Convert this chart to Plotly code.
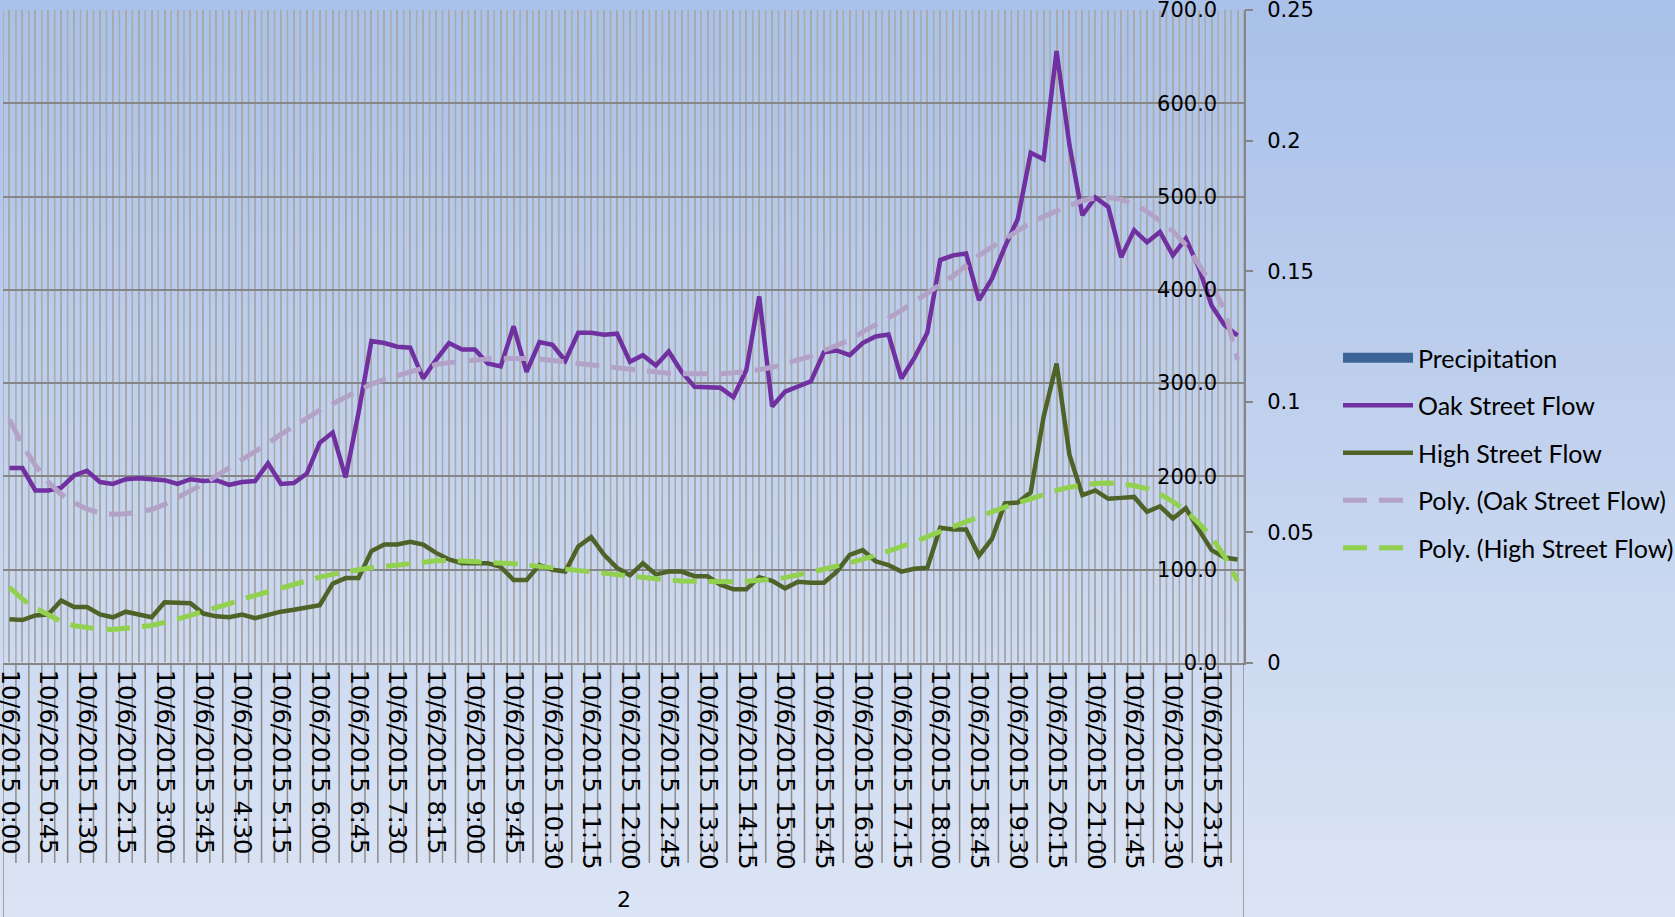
import plotly.graph_objects as go

# ---------------- data ----------------
times = [f"10/6/2015 {h}:{m:02d}" for h in range(24) for m in (0, 15, 30, 45)]

oak_flow = [
    209, 209, 185, 185, 188, 201, 206, 194, 192, 197, 198, 197,
    196, 192, 197, 195, 196, 191, 194, 195, 214, 192, 193, 203,
    236, 247, 199, 268, 345, 343, 339, 338, 305, 325, 343, 336,
    336, 321, 318, 361, 312, 344, 341, 324, 354, 354, 352, 353,
    323, 330, 319, 334, 312, 296, 296, 295, 285, 314, 393, 275,
    291, 296, 302, 333, 335, 330, 343, 350, 352, 305, 327, 354,
    432, 437, 439, 389, 412, 446, 476, 547, 540, 656, 555, 480,
    499, 489, 435, 464, 451, 462, 437, 455, 424, 383, 362, 351,
]

high_flow = [
    47, 46, 51, 52, 67, 60, 60, 52, 49, 55, 52, 49,
    65, 64, 64, 53, 50, 49, 52, 48, 52, 55, 57, 59,
    62, 85, 91, 91, 120, 127, 127, 130, 127, 118, 111, 107,
    107, 107, 103, 89, 89, 105, 100, 98, 125, 135, 116, 102,
    94, 107, 95, 98, 98, 93, 93, 84, 79, 79, 92, 88,
    80, 87, 86, 86, 98, 116, 121, 109, 105, 98, 101, 102,
    145, 143, 143, 115, 133, 171, 172, 183, 264, 321, 223, 180,
    185, 176, 177, 178, 162, 168, 155, 166, 143, 121, 113, 111,
]

oak_poly = [
    261, 234, 212, 194, 181, 172, 165, 161, 159.5, 160, 162, 164.5,
    170, 177, 184, 192, 200.5, 209, 218, 226.5, 235.5, 245, 254, 263,
    271, 278, 285, 293, 299, 304, 308, 313, 317, 320, 322, 323.5,
    325, 326, 326.5, 327, 326.5, 326, 324, 322.5, 321, 319.5, 318, 316,
    314.5, 313, 311, 310.5, 310, 309.7, 309.6, 310, 311, 312.5, 314.5, 317,
    321, 325, 329, 335, 340, 346, 355, 362, 370, 378, 387, 396,
    404.5, 415, 426, 437, 446, 455, 464, 472, 478.5, 485, 490.5, 495.5,
    498.5, 499, 497, 492, 484, 474, 463, 448, 428, 406, 378, 325,
]

high_poly = [
    81, 68.5, 59, 51, 44.5, 40, 37.5, 36.3, 36, 37, 38.5, 40.3,
    43.5, 47, 51, 55.5, 59, 63.5, 68.5, 72.5, 75.5, 80, 84, 88,
    92, 95, 98, 100, 102, 103.5, 105.5, 107, 108.5, 109.5, 110, 109.5,
    108, 107.5, 107, 106.5, 105, 103.5, 102, 100, 98.5, 97.5, 96, 94.5,
    93, 91.5, 90, 89, 88, 87.5, 87, 87, 87, 87.7, 88.5, 89.7,
    91.5, 94, 97.5, 100.5, 104, 107, 111, 115.5, 120, 124.5, 129.5, 135.5,
    141, 146.5, 152, 157, 162, 167, 171.5, 176, 181, 185, 188.5, 190.5,
    192.5, 193, 192.5, 190, 187, 181, 173, 163, 150, 135, 114, 88,
]

precipitation = [
    0, 0, 0, 0, 0, 0, 0, 0, 0, 0, 0, 0, 0, 0, 0, 0, 0, 0, 0, 0, 0, 0, 0, 0,
    0, 0, 0, 0, 0, 0, 0, 0, 0, 0, 0, 0, 0, 0, 0, 0, 0, 0, 0, 0, 0, 0, 0, 0,
    0, 0, 0, 0, 0, 0, 0, 0, 0, 0, 0, 0, 0, 0, 0, 0, 0, 0, 0, 0, 0, 0, 0, 0,
    0, 0, 0, 0, 0, 0, 0, 0, 0, 0, 0, 0, 0, 0, 0, 0, 0, 0, 0, 0, 0, 0, 0, 0,
]

flow_ticks = [0, 100, 200, 300, 400, 500, 600, 700]
precip_ticks = [0, 0.05, 0.1, 0.15, 0.2, 0.25]
group_label = "2"

# ---------------- layout geometry ----------------
W, H = 1675, 917
L, R, T, B = 3, 431, 10, 254
PW, PH = W - L - R, H - T - B


def px_x(X):
    return (X - L) / PW


def px_y(Y):
    return (H - B - Y) / PH


tick_text = [t if i % 3 == 0 else "" for i, t in enumerate(times)]

fig = go.Figure()

fig.add_trace(go.Bar(
    x=times, y=precipitation, yaxis="y2", name="Precipitation",
    marker_color="#3c6496", showlegend=False, legendgroup="p",
))
# legend proxy for the bar series
fig.add_trace(go.Scatter(
    x=[None], y=[None], mode="lines", name="Precipitation",
    line=dict(color="#3c6496", width=14), legendgroup="p",
))
fig.add_trace(go.Scatter(
    x=times, y=oak_flow, mode="lines", name="Oak Street Flow",
    line=dict(color="#7030a0", width=4.5), legendgroup="o",
))
fig.add_trace(go.Scatter(
    x=times, y=high_flow, mode="lines", name="High Street Flow",
    line=dict(color="#4f6228", width=4.5), legendgroup="h",
))
fig.add_trace(go.Scatter(
    x=times, y=oak_poly, mode="lines", name="Poly. (Oak Street Flow)",
    line=dict(color="#b3a2c7", width=5, dash="24px,12px"), legendgroup="op",
))
fig.add_trace(go.Scatter(
    x=times, y=high_poly, mode="lines", name="Poly. (High Street Flow)",
    line=dict(color="#92d050", width=5, dash="24px,12px"), legendgroup="hp",
))

shapes = []
# background gradient
top_c = (170, 193, 233)
bot_c = (219, 228, 244)
N = 48
for k in range(N):
    f = k / (N - 1)
    c = tuple(round(top_c[j] + (bot_c[j] - top_c[j]) * f) for j in range(3))
    y0 = k * H / N
    y1 = (k + 1) * H / N + 1
    shapes.append(dict(
        type="rect", xref="paper", yref="paper", layer="below",
        x0=px_x(0), x1=px_x(W), y0=px_y(y0), y1=px_y(y1),
        fillcolor=f"rgb{c}", line=dict(width=0),
    ))
# category boundary grid lines and long tick marks
for k in range(len(times) + 1):
    xb = k - 0.5
    shapes.append(dict(
        type="line", xref="x", yref="paper", layer="below",
        x0=xb, x1=xb, y0=0, y1=1, line=dict(color="#aaaaaa", width=1.5),
    ))
    bottom = px_y(H) if k in (0, len(times)) else px_y(863)
    shapes.append(dict(
        type="line", xref="x", yref="paper", layer="below",
        x0=xb, x1=xb, y0=0, y1=bottom, line=dict(color="#8c8c8c", width=1.5),
    ))

fig.update_layout(
    width=W, height=H,
    margin=dict(l=L, r=R, t=T, b=B, autoexpand=False),
    paper_bgcolor="rgb(195,210,238)",
    plot_bgcolor="rgba(0,0,0,0)",
    shapes=shapes,
    showlegend=True,
    legend=dict(
        x=px_x(1338), y=px_y(335), xanchor="left", yanchor="top",
        font=dict(family="Lato", size=25, color="black"),
        bgcolor="rgba(0,0,0,0)", itemwidth=70, tracegroupgap=12,
        traceorder="grouped",
    ),
    xaxis=dict(
        type="category", range=[-0.5, len(times) - 0.5],
        tickmode="array", tickvals=times, ticktext=tick_text,
        tickangle=90, ticks="", showgrid=True, gridcolor="#aaaaaa", gridwidth=1.5,
        showline=True, linecolor="#868686", linewidth=2, zeroline=False,
        tickfont=dict(family="DejaVu Sans", size=24, color="black"),
    ),
    yaxis=dict(
        range=[0, 700], tickmode="array", tickvals=flow_ticks, tickformat=".1f",
        side="right", ticklabelposition="inside", ticklabelstandoff=28,
        ticklabeloverflow="allow", ticks="",
        showgrid=True, gridcolor="#868686", gridwidth=1.5,
        showline=True, linecolor="#868686", linewidth=2, zeroline=False,
        tickfont=dict(family="DejaVu Sans", size=21, color="black"),
    ),
    yaxis2=dict(
        range=[0, 0.25], tickmode="array", tickvals=precip_ticks,
        overlaying="y", side="right", ticks="outside", ticklen=8,
        tickwidth=1.5, tickcolor="#868686", showgrid=False, zeroline=False,
        showline=False, ticklabelstandoff=10, ticklabeloverflow="allow",
        tickfont=dict(family="DejaVu Sans", size=21, color="black"),
    ),
    annotations=[dict(
        text=group_label, xref="paper", yref="paper", x=0.5, y=px_y(899),
        showarrow=False, font=dict(family="DejaVu Sans", size=22, color="black"),
        xanchor="center", yanchor="middle",
    )],
    bargap=0.5,
)

fig.write_html(
    "out.html",
    config={"displayModeBar": False},
    post_script="document.body.style.margin='0px';document.body.style.overflow='hidden';",
)
